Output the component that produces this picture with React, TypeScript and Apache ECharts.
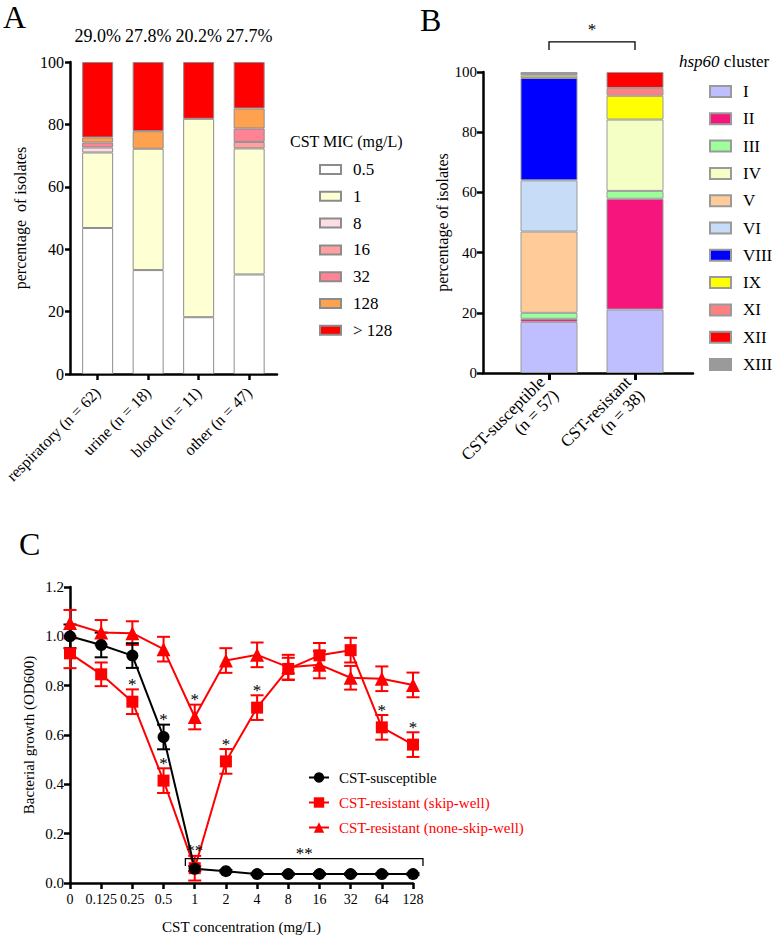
import React, { useEffect, useRef } from "react";
import * as echarts from "echarts";

const FONT = "'Liberation Serif', 'Times New Roman', 'DejaVu Serif', serif";

// ---------- Panel A: CST MIC distribution by specimen source ----------
const sourceCategories = ["respiratory (n = 62)", "urine (n = 18)", "blood (n = 11)", "other (n = 47)"];
const resistantShare = ["29.0%", "27.8%", "20.2%", "27.7%"];
const micNames = ["0.5", "1", "8", "16", "32", "128", "> 128"];
const micColors = ["#FFFFFF", "#FFFFD4", "#FFDCE3", "#FFA0A0", "#FF8394", "#FFA24F", "#FF0000"];
const mic05 = [46.8, 33.3, 18.2, 31.9];
const mic1 = [24.2, 38.9, 63.6, 40.4];
const mic8 = [1.6, 0, 0, 0];
const mic16 = [0, 0, 0, 2.1];
const mic32 = [1.6, 0, 0, 4.3];
const mic128 = [1.6, 5.6, 0, 6.4];
const micOver128 = [24.2, 22.2, 18.2, 14.9];
const micValues = [mic05, mic1, mic8, mic16, mic32, mic128, micOver128];

// ---------- Panel B: hsp60 cluster by CST phenotype ----------
const phenotypeCategories = ["CST-susceptible\n(n = 57)", "CST-resistant\n(n = 38)"];
const clusterNames = ["I", "II", "III", "IV", "V", "VI", "VIII", "IX", "XI", "XII", "XIII"];
const clusterColors = ["#BFBFFF", "#F5157D", "#9CFF9C", "#F3FFC4", "#FFCC99", "#C7DDF7", "#0000FF", "#FFFF00", "#FF8080", "#FF0000", "#9A9A9A"];
const clusterI = [17, 21.1];
const clusterII = [1, 36.8];
const clusterIII = [2, 2.6];
const clusterIV = [0, 23.7];
const clusterV = [27, 0];
const clusterVI = [17, 0];
const clusterVIII = [34, 0];
const clusterIX = [0.8, 7.9];
const clusterXI = [0, 2.6];
const clusterXII = [0, 5.3];
const clusterXIII = [1.2, 0];
const clusterValues = [clusterI, clusterII, clusterIII, clusterIV, clusterV, clusterVI, clusterVIII, clusterIX, clusterXI, clusterXII, clusterXIII];

// ---------- Panel C: growth curves ----------
const concLabels = ["0", "0.125", "0.25", "0.5", "1", "2", "4", "8", "16", "32", "64", "128"];
const odSusceptible = [1.0, 0.965, 0.922, 0.592, 0.058, 0.048, 0.036, 0.036, 0.036, 0.036, 0.036, 0.036];
const semSusceptible = [0.048, 0.05, 0.05, 0.05, 0.01, 0.005, 0.004, 0.004, 0.004, 0.004, 0.004, 0.004];
const odSkipWell = [0.931, 0.846, 0.735, 0.415, 0.06, 0.493, 0.711, 0.868, 0.923, 0.944, 0.631, 0.561];
const semSkipWell = [0.06, 0.048, 0.05, 0.05, 0.05, 0.05, 0.05, 0.045, 0.05, 0.05, 0.05, 0.05];
const odNoneSkipWell = [1.054, 1.016, 1.013, 0.948, 0.673, 0.902, 0.925, 0.875, 0.885, 0.832, 0.828, 0.803];
const semNoneSkipWell = [0.053, 0.05, 0.048, 0.05, 0.05, 0.05, 0.05, 0.05, 0.055, 0.048, 0.05, 0.05];
const seriesNamesC = ["CST-susceptible", "CST-resistant (skip-well)", "CST-resistant (none-skip-well)"];
// significance marks: [series index, concentration index, mark]
const starsC: [number, number, string][] = [
  [1, 2, "*"], [0, 3, "*"], [1, 3, "*"], [2, 4, "*"], [1, 4, "**"],
  [1, 5, "*"], [1, 6, "*"], [1, 10, "*"], [1, 11, "*"],
];
const bracketC = [[3.7, 11.32, 0.099]];
const bracketCLabel = "**";
const bracketB = [[0, 1, 110]];
const bracketBLabel = "*";

const black = "#000000";
const red = "#FF0000";

function buildOption(): any {
  const seriesA = micNames.map((name, k) => ({
    name,
    type: "bar",
    xAxisIndex: 1,
    yAxisIndex: 1,
    stack: "mic",
    barWidth: 31,
    data: micValues[k].map((v) => (v === 0 ? { value: 0, itemStyle: { borderWidth: 0 } } : v)),
    itemStyle: { color: micColors[k], borderColor: "#8C8C8C", borderWidth: 1 },
    label:
      k === micNames.length - 1
        ? {
            show: true,
            position: "top",
            distance: 17,
            formatter: (p: any) => resistantShare[p.dataIndex],
            fontSize: 18,
            fontFamily: FONT,
            color: black,
          }
        : { show: false },
    emphasis: { disabled: true },
  }));

  const seriesB = clusterNames.map((name, k) => ({
    name,
    type: "bar",
    xAxisIndex: 3,
    yAxisIndex: 3,
    stack: "hsp",
    barWidth: 57,
    data: clusterValues[k].map((v) => (v === 0 ? { value: 0, itemStyle: { borderWidth: 0 } } : v)),
    itemStyle: { color: clusterColors[k], borderColor: "#9A9A9A", borderWidth: 1 },
    emphasis: { disabled: true },
  }));

  const odAll = [odSusceptible, odSkipWell, odNoneSkipWell];
  const semAll = [semSusceptible, semSkipWell, semNoneSkipWell];
  const colorsC = [black, red, red];
  const symbolsC = ["circle", "rect", "triangle"];
  const symbolSizesC = [12, 12, 14];
  const orderC = [2, 1, 0];

  const seriesC: any[] = [];
  orderC.forEach((k) => {
    seriesC.push({
      name: seriesNamesC[k] + " err",
      type: "custom",
      coordinateSystem: "cartesian2d",
      xAxisIndex: 4,
      yAxisIndex: 4,
      encode: { x: 0, y: [1, 2] },
      data: odAll[k].map((v, i) => [i, v - semAll[k][i], v + semAll[k][i]]),
      renderItem: (params: any, api: any) => {
        const x = api.value(0);
        const lo = api.coord([x, api.value(1)]);
        const hi = api.coord([x, api.value(2)]);
        const w = 6.5;
        const st = { stroke: colorsC[k], lineWidth: 2, fill: null };
        return {
          type: "group",
          children: [
            { type: "line", shape: { x1: hi[0], y1: hi[1], x2: lo[0], y2: lo[1] }, style: st },
            { type: "line", shape: { x1: hi[0] - w, y1: hi[1], x2: hi[0] + w, y2: hi[1] }, style: st },
            { type: "line", shape: { x1: lo[0] - w, y1: lo[1], x2: lo[0] + w, y2: lo[1] }, style: st },
          ],
        };
      },
      z: 3,
      silent: true,
    });
    seriesC.push({
      name: seriesNamesC[k],
      type: "line",
      xAxisIndex: 4,
      yAxisIndex: 4,
      data: odAll[k].map((v, i) => [i, v]),
      symbol: symbolsC[k],
      symbolSize: symbolSizesC[k],
      showAllSymbol: true,
      lineStyle: { color: colorsC[k], width: 2 },
      itemStyle: { color: colorsC[k], borderWidth: 0 },
      z: 4,
      emphasis: { disabled: true },
    });
  });

  seriesC.push({
    name: "stars",
    type: "custom",
    coordinateSystem: "cartesian2d",
    xAxisIndex: 4,
    yAxisIndex: 4,
    encode: { x: 0, y: 1 },
    data: starsC.map(([s, i]) => [i, odAll[s][i] + semAll[s][i]]),
    renderItem: (params: any, api: any) => {
      const p = api.coord([api.value(0), api.value(1)]);
      return {
        type: "text",
        x: p[0],
        y: p[1] - 5,
        style: {
          text: starsC[params.dataIndex][2],
          fontSize: 17,
          fontFamily: FONT,
          fill: black,
          align: "center",
          verticalAlign: "middle",
          textAlign: "center",
          textVerticalAlign: "middle",
        },
      };
    },
    z: 6,
    silent: true,
  });

  const bracketRender = (label: string, drop: number, gap: number) => (params: any, api: any) => {
    const a = api.coord([api.value(0), api.value(2)]);
    const b = api.coord([api.value(1), api.value(2)]);
    return {
      type: "group",
      children: [
        {
          type: "polyline",
          shape: { points: [[a[0], a[1] + drop], [a[0], a[1]], [b[0], b[1]], [b[0], b[1] + drop]] },
          style: { stroke: black, lineWidth: 1.3, fill: null },
        },
        {
          type: "text",
          x: (a[0] + b[0]) / 2,
          y: a[1] - gap,
          style: {
            text: label,
            fontSize: 17,
            fontFamily: FONT,
            fill: black,
            align: "center",
            verticalAlign: "middle",
            textAlign: "center",
            textVerticalAlign: "middle",
          },
        },
      ],
    };
  };

  seriesC.push({
    name: "bracketC",
    type: "custom",
    coordinateSystem: "cartesian2d",
    xAxisIndex: 4,
    yAxisIndex: 4,
    encode: { x: [0, 1], y: 2 },
    data: bracketC,
    renderItem: bracketRender(bracketCLabel, 7.5, 5),
    clip: false,
    z: 6,
    silent: true,
  });

  const seriesBracketB = {
    name: "bracketB",
    type: "custom",
    coordinateSystem: "cartesian2d",
    xAxisIndex: 3,
    yAxisIndex: 3,
    encode: { x: [0, 1], y: 2 },
    data: bracketB,
    renderItem: bracketRender(bracketBLabel, 8, 12),
    clip: false,
    silent: true,
  };

  const axisLineStyle = { color: black, width: 2.5 };
  const tickLabel = (size: number) => ({ color: black, fontSize: size, fontFamily: FONT });

  return {
    animation: false,
    backgroundColor: "#FFFFFF",
    textStyle: { fontFamily: FONT, color: black },
    grid: [
      { left: 70, top: 62, width: 207, height: 312, outerBoundsMode: "none" },
      { left: 72.4, top: 62, width: 202, height: 312, outerBoundsMode: "none" },
      { left: 483, top: 72, width: 210, height: 301, outerBoundsMode: "none" },
      { left: 506, top: 72, width: 172, height: 301, outerBoundsMode: "none" },
      { left: 70, top: 587, width: 343, height: 296, outerBoundsMode: "none" },
    ],
    xAxis: [
      {
        gridIndex: 0, type: "category", data: [""],
        axisLine: { show: true, lineStyle: axisLineStyle }, axisTick: { show: false }, axisLabel: { show: false }, splitLine: { show: false },
      },
      {
        gridIndex: 1, type: "category", data: sourceCategories,
        axisLine: { show: false },
        axisTick: { show: true, alignWithLabel: true, length: 6, lineStyle: { color: black, width: 2.5 } },
        axisLabel: { ...tickLabel(16), rotate: 45, margin: 16, interval: 0 },
        splitLine: { show: false },
      },
      {
        gridIndex: 2, type: "category", data: [""],
        axisLine: { show: true, lineStyle: axisLineStyle }, axisTick: { show: false }, axisLabel: { show: false }, splitLine: { show: false },
      },
      {
        gridIndex: 3, type: "category", data: phenotypeCategories,
        axisLine: { show: false },
        axisTick: { show: true, alignWithLabel: true, length: 7, lineStyle: { color: black, width: 3 } },
        axisLabel: { ...tickLabel(17), rotate: 45, margin: 13, interval: 0, lineHeight: 19 },
        splitLine: { show: false },
      },
      {
        gridIndex: 4, type: "value", min: 0, max: 11, interval: 1,
        axisLine: { show: true, lineStyle: axisLineStyle },
        axisTick: { show: true, length: 6, lineStyle: { color: black, width: 2.5 } },
        axisLabel: { ...tickLabel(14), margin: 9, formatter: (v: number) => concLabels[v] ?? "" },
        splitLine: { show: false },
        name: "CST concentration (mg/L)", nameLocation: "middle", nameGap: 36,
        nameTextStyle: { fontSize: 15, fontFamily: FONT, color: black },
      },
    ],
    yAxis: [
      {
        gridIndex: 0, type: "value", min: 0, max: 100, interval: 20,
        axisLine: { show: true, lineStyle: axisLineStyle },
        axisTick: { show: true, length: 5, lineStyle: { color: black, width: 2.5 } },
        axisLabel: { ...tickLabel(16), margin: 6 },
        splitLine: { show: false },
        name: "percentage  of isolates", nameLocation: "middle", nameGap: 42,
        nameTextStyle: { fontSize: 16, fontFamily: FONT, color: black },
      },
      { gridIndex: 1, type: "value", min: 0, max: 100, show: false, splitLine: { show: false } },
      {
        gridIndex: 2, type: "value", min: 0, max: 100, interval: 20,
        axisLine: { show: true, lineStyle: axisLineStyle },
        axisTick: { show: true, length: 6, lineStyle: { color: black, width: 2.5 } },
        axisLabel: { ...tickLabel(15), margin: 6 },
        splitLine: { show: false },
        name: "percentage of isolates", nameLocation: "middle", nameGap: 32,
        nameTextStyle: { fontSize: 16, fontFamily: FONT, color: black },
      },
      { gridIndex: 3, type: "value", min: 0, max: 100, show: false, splitLine: { show: false } },
      {
        gridIndex: 4, type: "value", min: 0, max: 1.2, interval: 0.2,
        axisLine: { show: true, lineStyle: axisLineStyle },
        axisTick: { show: true, length: 6, lineStyle: { color: black, width: 2.5 } },
        axisLabel: { ...tickLabel(15), margin: 6, formatter: (v: number) => v.toFixed(1) },
        splitLine: { show: false },
        name: "Bacterial growth (OD600)", nameLocation: "middle", nameGap: 34,
        nameTextStyle: { fontSize: 15, fontFamily: FONT, color: black },
      },
    ],
    legend: [
      {
        data: micNames, orient: "vertical", left: 319, top: 161, padding: 0,
        itemWidth: 21, itemHeight: 9, itemGap: 9.8, icon: "rect", selectedMode: false,
        textStyle: { fontSize: 17, lineHeight: 17, fontFamily: FONT, color: black, padding: [0, 0, 0, 7] },
      },
      {
        data: clusterNames, orient: "vertical", left: 709, top: 83, padding: 0,
        itemWidth: 21, itemHeight: 11, itemGap: 10.3, icon: "rect", selectedMode: false,
        textStyle: { fontSize: 17, lineHeight: 17, fontFamily: FONT, color: black, padding: [0, 0, 0, 7] },
      },
      {
        data: [
          { name: seriesNamesC[0], textStyle: { color: black } },
          { name: seriesNamesC[1], textStyle: { color: red } },
          { name: seriesNamesC[2], textStyle: { color: red } },
        ],
        orient: "vertical", left: 308, top: 770, padding: 0,
        itemWidth: 20, itemHeight: 13, itemGap: 10, selectedMode: false,
        textStyle: { fontSize: 15, lineHeight: 15, fontFamily: FONT, padding: [0, 0, 0, 5] },
      },
    ],
    graphic: [
      { type: "text", x: 3, y: 17, style: { text: "A", fontSize: 32, fontFamily: FONT, fill: black, align: "left", verticalAlign: "middle", textAlign: "left", textVerticalAlign: "middle" } },
      { type: "text", x: 420, y: 20, style: { text: "B", fontSize: 32, fontFamily: FONT, fill: black, align: "left", verticalAlign: "middle", textAlign: "left", textVerticalAlign: "middle" } },
      { type: "text", x: 19, y: 544, style: { text: "C", fontSize: 32, fontFamily: FONT, fill: black, align: "left", verticalAlign: "middle", textAlign: "left", textVerticalAlign: "middle" } },
      { type: "text", x: 290, y: 141, style: { text: "CST MIC (mg/L)", fontSize: 16, fontFamily: FONT, fill: black, align: "left", verticalAlign: "middle", textAlign: "left", textVerticalAlign: "middle" } },
      {
        type: "text", x: 679, y: 61,
        style: {
          text: "{i|hsp60} cluster", fontSize: 17, fontFamily: FONT, fill: black,
          align: "left", verticalAlign: "middle", textAlign: "left", textVerticalAlign: "middle",
          rich: { i: { fontStyle: "italic", fontSize: 17, fontFamily: FONT, fill: black, color: black } },
        },
      },
    ],
    series: [...seriesA, ...seriesB, seriesBracketB, ...seriesC],
  };
}

export default function App() {
  const ref = useRef<HTMLDivElement>(null);
  useEffect(() => {
    document.body.style.margin = "0";
    if (!ref.current) return;
    const chart = echarts.init(ref.current, null, { renderer: "svg" });
    chart.setOption(buildOption());
    return () => chart.dispose();
  }, []);
  return <div ref={ref} style={{ width: 784, height: 936 }} />;
}
